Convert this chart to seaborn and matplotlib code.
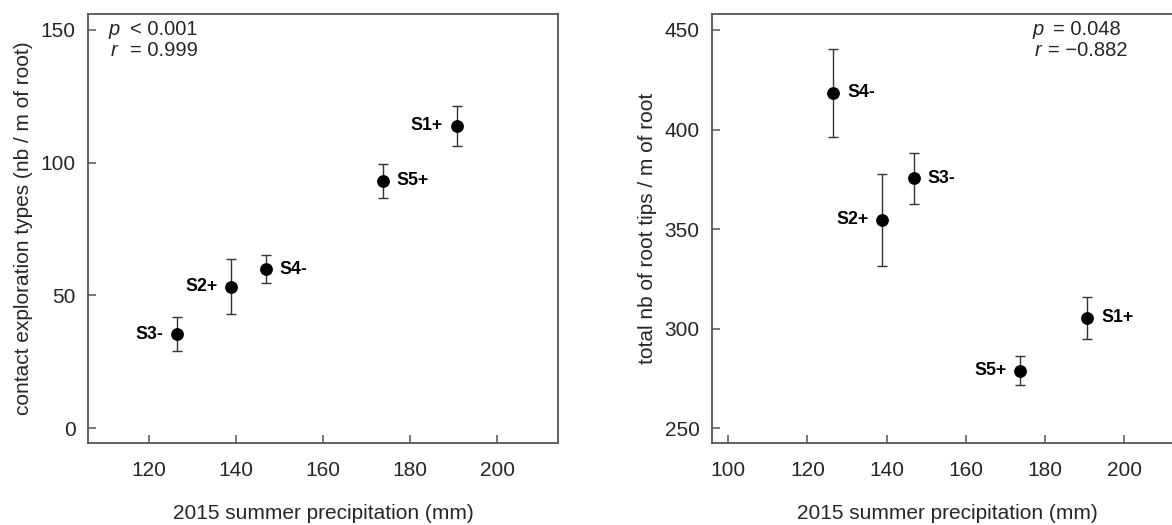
import seaborn as sns
import matplotlib.pyplot as plt
import pandas as pd

# site labels and values
sites = ["S1+", "S2+", "S3-", "S4-", "S5+"]

precip_left = [190.7, 138.9, 126.4, 146.8, 173.8]
contact_mean = [113.9, 53.3, 35.3, 59.9, 93.2]
contact_err = [7.5, 10.4, 6.4, 5.2, 6.4]
side_left = ["left", "left", "left", "right", "right"]

precip_right = [190.7, 138.9, 146.8, 126.5, 173.8]
tips_mean = [305.3, 354.6, 375.6, 418.4, 278.8]
tips_err = [10.5, 23.0, 12.8, 22.0, 7.3]
side_right = ["right", "left", "right", "right", "left"]

left_stats = ("p", "< 0.001", "r", "= 0.999")
right_stats = ("p", "= 0.048", "r", "= \u22120.882")

df_left = pd.DataFrame({"site": sites, "x": precip_left, "y": contact_mean,
                        "err": contact_err, "side": side_left})
df_right = pd.DataFrame({"site": sites, "x": precip_right, "y": tips_mean,
                         "err": tips_err, "side": side_right})

sns.set_theme(style="ticks")
plt.rcParams["font.family"] = ["Liberation Sans", "DejaVu Sans"]

TEXT = "#262626"
SPINE = "#555555"

fig = plt.figure(figsize=(11.72, 5.25), dpi=100)
ax1 = fig.add_axes([0.0751, 0.1562, 0.401, 0.817])
ax2 = fig.add_axes([0.6075, 0.1562, 0.401, 0.817])


def draw_panel(ax, df, xlim, ylim, yticks, xticks, ylabel, stats, stat_pos):
    ax.errorbar(df["x"], df["y"], yerr=df["err"], fmt="none",
                ecolor="#333333", elinewidth=1.0, capsize=3.5, capthick=1.0,
                zorder=2)
    sns.scatterplot(data=df, x="x", y="y", ax=ax, color="black", s=85,
                    edgecolor="black", linewidth=0, zorder=3, legend=False)
    for _, row in df.iterrows():
        dx = 10 if row["side"] == "right" else -10
        ha = "left" if row["side"] == "right" else "right"
        ax.annotate(row["site"], (row["x"], row["y"]), xytext=(dx, 0),
                    textcoords="offset points", ha=ha, va="center",
                    fontsize=12.8, fontweight="bold", color="black")

    ax.set_xlim(*xlim)
    ax.set_ylim(*ylim)
    ax.set_xticks(xticks)
    ax.set_yticks(yticks)
    ax.tick_params(axis="both", which="major", direction="in", length=6,
                   width=1.1, color=SPINE, labelsize=15, labelcolor=TEXT)
    ax.tick_params(axis="x", pad=13)
    ax.tick_params(axis="y", pad=9)
    for sp in ax.spines.values():
        sp.set_color(SPINE)
        sp.set_linewidth(1.3)
    ax.set_xlabel("2015 summer precipitation (mm)", fontsize=15, color=TEXT,
                  labelpad=17)
    ax.set_ylabel(ylabel, fontsize=15, color=TEXT, labelpad=5)

    (px, rest_x1, rest_x2) = stat_pos
    ax.text(px, 0.963, stats[0], transform=ax.transAxes, fontsize=14.5,
            style="italic", color=TEXT, va="center", ha="left")
    ax.text(rest_x1, 0.963, stats[1], transform=ax.transAxes, fontsize=14.5,
            color=TEXT, va="center", ha="left")
    ax.text(px + 0.006, 0.916, stats[2], transform=ax.transAxes, fontsize=14.5,
            style="italic", color=TEXT, va="center", ha="left")
    ax.text(rest_x2, 0.916, stats[3], transform=ax.transAxes, fontsize=14.5,
            color=TEXT, va="center", ha="left")


draw_panel(ax1, df_left, (106, 214), (-5.6, 156), [0, 50, 100, 150],
           [120, 140, 160, 180, 200],
           "contact exploration types (nb / m of root)", left_stats,
           (0.043, 0.089, 0.089))
draw_panel(ax2, df_right, (95.9, 214.6), (242.5, 458), [250, 300, 350, 400, 450],
           [100, 120, 140, 160, 180, 200],
           "total nb of root tips / m of root", right_stats,
           (0.681, 0.726, 0.714))

fig.savefig("out.png", dpi=100)
